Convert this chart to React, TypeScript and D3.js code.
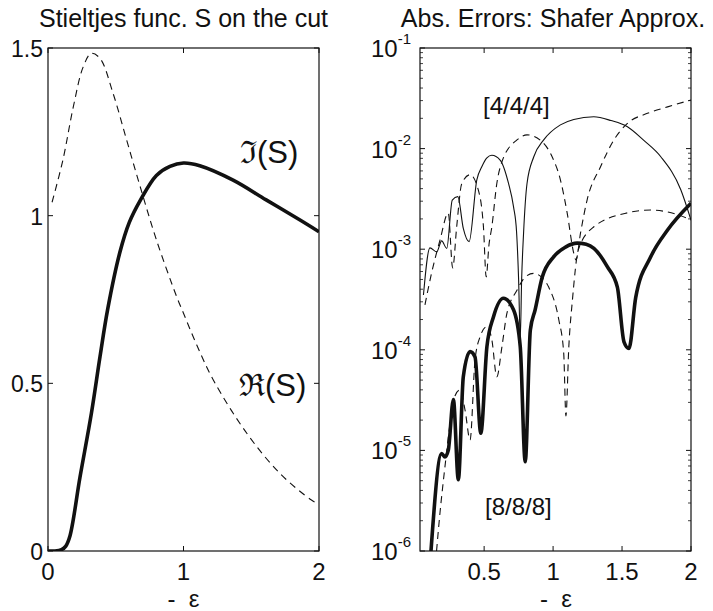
import React from 'react';
import * as d3 from 'd3';

// ---------- Left panel data: Stieltjes function on the cut ----------
const imX = [0, 0.05, 0.1, 0.13, 0.162, 0.236, 0.32, 0.384, 0.44, 0.53, 0.6, 0.68, 0.8, 0.9, 1.0, 1.12, 1.366, 1.61, 1.86, 2.0];
const imY = [0, 0, 0.004, 0.014, 0.045, 0.22, 0.41, 0.58, 0.72, 0.89, 0.98, 1.045, 1.12, 1.147, 1.157, 1.149, 1.106, 1.047, 0.987, 0.952];

const reX = [0.03, 0.11, 0.187, 0.26, 0.32, 0.384, 0.48, 0.58, 0.68, 0.8, 0.95, 1.0, 1.097, 1.22, 1.467, 1.71, 1.944, 2.0];
const reY = [1.04, 1.166, 1.325, 1.444, 1.484, 1.469, 1.365, 1.226, 1.087, 0.928, 0.758, 0.709, 0.615, 0.51, 0.351, 0.232, 0.152, 0.14];

const leftXTicks = [0, 1, 2];
const leftYTicks = [0, 0.5, 1, 1.5];
const leftYTickLabels = ['0', '0.5', '1', '1.5'];

// ---------- Right panel data: absolute errors (log scale) ----------
const thinX = [0.06, 0.107, 0.156, 0.192, 0.229, 0.269, 0.309, 0.349, 0.391, 0.447, 0.483, 0.52, 0.556, 0.616, 0.677, 0.713, 0.735, 0.75, 0.762, 0.772, 0.786, 0.811, 0.86, 0.932, 1.053, 1.15, 1.295, 1.42, 1.539, 1.66, 1.781, 1.926, 2.0];
const thinY = [3.5e-4, 1.03e-3, 9.4e-4, 1.21e-3, 1.02e-3, 3.08e-3, 3.33e-3, 1.61e-3, 1.19e-3, 4.9e-3, 6.6e-3, 8.1e-3, 8.6e-3, 7.7e-3, 4.5e-3, 2.65e-3, 1.5e-3, 5e-4, 1.3e-4, 5e-4, 1.45e-3, 4.5e-3, 8.3e-3, 1.22e-2, 1.72e-2, 1.95e-2, 2.07e-2, 1.9e-2, 1.65e-2, 1.2e-2, 8.3e-3, 3.9e-3, 1.95e-3];

const dashAX = [0.071, 0.119, 0.18, 0.24, 0.272, 0.301, 0.338, 0.398, 0.455, 0.495, 0.515, 0.535, 0.556, 0.592, 0.629, 0.738, 0.811, 0.92, 0.993, 1.053, 1.102, 1.15, 1.166, 1.199, 1.247, 1.344, 1.441, 1.539, 1.684, 1.83, 2.0];
const dashAY = [2.8e-4, 5.8e-4, 1.23e-3, 2.29e-3, 6.5e-4, 1.67e-3, 4.5e-3, 5.5e-3, 4.0e-3, 1.67e-3, 5.3e-4, 1.1e-3, 1.67e-3, 4.5e-3, 7.4e-3, 1.22e-2, 1.37e-2, 1.17e-2, 8.3e-3, 4.9e-3, 2.3e-3, 9.1e-4, 7.8e-4, 1.45e-3, 3.1e-3, 6.6e-3, 1.22e-2, 1.78e-2, 2.24e-2, 2.6e-2, 3.04e-2];

const dashBX = [0.155, 0.18, 0.216, 0.253, 0.289, 0.325, 0.362, 0.398, 0.434, 0.471, 0.52, 0.556, 0.592, 0.629, 0.665, 0.738, 0.798, 0.859, 0.908, 0.968, 1.041, 1.077, 1.093, 1.114, 1.14, 1.184, 1.296, 1.539, 1.708, 1.903, 2.0];
const dashBY = [1.0e-6, 2.4e-6, 6.9e-6, 1.86e-5, 3.5e-5, 4.0e-5, 2.5e-5, 1.27e-5, 7.9e-5, 1.35e-4, 1.7e-4, 1.26e-4, 5.4e-5, 1.07e-4, 2.3e-4, 3.9e-4, 5.3e-4, 5.75e-4, 5.4e-4, 4.2e-4, 2.0e-4, 9.3e-5, 2.2e-5, 1.07e-4, 3.1e-4, 1.0e-3, 1.67e-3, 2.3e-3, 2.45e-3, 2.2e-3, 1.95e-3];

const thickX = [0.112, 0.192, 0.216, 0.24, 0.277, 0.313, 0.349, 0.398, 0.434, 0.476, 0.52, 0.568, 0.64, 0.713, 0.762, 0.798, 0.835, 0.87, 0.92, 1.004, 1.09, 1.175, 1.24, 1.296, 1.393, 1.466, 1.514, 1.55, 1.599, 1.708, 1.83, 2.0];
const thickY = [8.9e-7, 9.3e-6, 8.6e-6, 1.0e-5, 3.2e-5, 5.1e-6, 5.4e-5, 9.6e-5, 8.5e-5, 1.48e-5, 1.07e-4, 2.13e-4, 3.25e-4, 2.5e-4, 1.07e-4, 7.7e-6, 1.57e-4, 2.5e-4, 5.2e-4, 8.4e-4, 1.05e-3, 1.15e-3, 1.12e-3, 1.02e-3, 6.7e-4, 4.2e-4, 1.2e-4, 1.03e-4, 3.3e-4, 8.4e-4, 1.55e-3, 2.86e-3];

const rightXTicks = [0.5, 1, 1.5, 2];
const rightXTickLabels = ['0.5', '1', '1.5', '2'];
const rightYExponents = [-6, -5, -4, -3, -2, -1];

const FONT = "'Liberation Sans', Arial, Helvetica, sans-serif";
const INK = '#111';

const zip = (xs: number[], ys: number[]) => xs.map((x, i) => [x, ys[i]] as [number, number]);

export default function App() {
  const W = 713, H = 611;
  const top = 48, bottom = 551;

  // Left panel scales
  const lx = d3.scaleLinear().domain([0, 2]).range([48, 319]);
  const ly = d3.scaleLinear().domain([0, 1.5]).range([bottom, top]);
  const lLine = d3.line<[number, number]>().x(d => lx(d[0])).y(d => ly(d[1])).curve(d3.curveCatmullRom.alpha(0.5));

  // Right panel scales
  const rx = d3.scaleLinear().domain([0.035, 2]).range([420, 691]);
  const ry = d3.scaleLog().domain([1e-6, 1e-1]).range([bottom, top]);
  const rLine = d3.line<[number, number]>().x(d => rx(d[0])).y(d => ry(d[1])).curve(d3.curveMonotoneX);

  const tick = 5, minor = 3;

  const minorTicks: number[] = [];
  for (let e = -6; e < -1; e++) for (let m = 2; m <= 9; m++) minorTicks.push(m * Math.pow(10, e));

  return (
    <svg width={W} height={H} style={{ display: 'block', position: 'absolute', left: 0, top: 0, background: '#fff' }} fontFamily={FONT}>
      <defs>
        <clipPath id="clipL"><rect x={48} y={top} width={271} height={bottom - top} /></clipPath>
        <clipPath id="clipR"><rect x={420} y={top} width={271} height={bottom - top} /></clipPath>
      </defs>
      <rect x={0} y={0} width={W} height={H} fill="#fff" />

      {/* ---------- Left panel ---------- */}
      <text x={(lx(0) + lx(2)) / 2} y={27} textAnchor="middle" fontSize={25} fill={INK}>Stieltjes func. S on the cut</text>
      <g clipPath="url(#clipL)">
        <path d={lLine(zip(reX, reY)) || ''} fill="none" stroke={INK} strokeWidth={1.1} strokeDasharray="7,5" />
        <path d={lLine(zip(imX, imY)) || ''} fill="none" stroke={INK} strokeWidth={3.6} strokeLinejoin="round" />
      </g>
      <rect x={48} y={top} width={271} height={bottom - top} fill="none" stroke={INK} strokeWidth={1.2} />
      {leftXTicks.map(t => (
        <g key={'lx' + t}>
          <line x1={lx(t)} x2={lx(t)} y1={bottom} y2={bottom - tick} stroke={INK} />
          <line x1={lx(t)} x2={lx(t)} y1={top} y2={top + tick} stroke={INK} />
          <text x={lx(t)} y={580} textAnchor="middle" fontSize={24} fill={INK}>{t}</text>
        </g>
      ))}
      {leftYTicks.map((t, i) => (
        <g key={'ly' + t}>
          <line x1={48} x2={48 + tick} y1={ly(t)} y2={ly(t)} stroke={INK} />
          <line x1={319} x2={319 - tick} y1={ly(t)} y2={ly(t)} stroke={INK} />
          <text x={43} y={ly(t) + 9} textAnchor="end" fontSize={23} fill={INK}>{leftYTickLabels[i]}</text>
        </g>
      ))}
      <text x={(lx(0) + lx(2)) / 2} y={607} textAnchor="middle" fontSize={24} fill={INK} style={{ whiteSpace: 'pre' }}>{'-  ε'}</text>
      <text x={240} y={163} fontSize={31} fill={INK}>ℑ(S)</text>
      <text x={239} y={396} fontSize={31} fill={INK}>ℜ(S)</text>

      {/* ---------- Right panel ---------- */}
      <text x={553} y={27} textAnchor="middle" fontSize={25} fill={INK}>Abs. Errors: Shafer Approx.</text>
      <g clipPath="url(#clipR)">
        <path d={rLine(zip(dashAX, dashAY)) || ''} fill="none" stroke={INK} strokeWidth={1.1} strokeDasharray="7,5" />
        <path d={rLine(zip(dashBX, dashBY)) || ''} fill="none" stroke={INK} strokeWidth={1.1} strokeDasharray="7,5" />
        <path d={rLine(zip(thinX, thinY)) || ''} fill="none" stroke={INK} strokeWidth={1.1} />
        <path d={rLine(zip(thickX, thickY)) || ''} fill="none" stroke={INK} strokeWidth={3.6} strokeLinejoin="round" />
      </g>
      <rect x={420} y={top} width={271} height={bottom - top} fill="none" stroke={INK} strokeWidth={1.2} />
      {rightXTicks.map((t, i) => (
        <g key={'rx' + t}>
          <line x1={rx(t)} x2={rx(t)} y1={bottom} y2={bottom - tick} stroke={INK} />
          <line x1={rx(t)} x2={rx(t)} y1={top} y2={top + tick} stroke={INK} />
          <text x={rx(t)} y={580} textAnchor="middle" fontSize={24} fill={INK}>{rightXTickLabels[i]}</text>
        </g>
      ))}
      {minorTicks.map((v, i) => (
        <g key={'rm' + i}>
          <line x1={420} x2={420 + minor} y1={ry(v)} y2={ry(v)} stroke={INK} strokeWidth={0.8} />
          <line x1={691} x2={691 - minor} y1={ry(v)} y2={ry(v)} stroke={INK} strokeWidth={0.8} />
        </g>
      ))}
      {rightYExponents.map(e => (
        <g key={'ry' + e}>
          <line x1={420} x2={420 + tick} y1={ry(Math.pow(10, e))} y2={ry(Math.pow(10, e))} stroke={INK} />
          <line x1={691} x2={691 - tick} y1={ry(Math.pow(10, e))} y2={ry(Math.pow(10, e))} stroke={INK} />
          <text x={411} y={ry(Math.pow(10, e)) + 9} textAnchor="end" fontSize={24} fill={INK}>
            <tspan>10</tspan>
            <tspan dy={-13} fontSize={15}>{String(e)}</tspan>
          </text>
        </g>
      ))}
      <text x={556} y={607} textAnchor="middle" fontSize={24} fill={INK} style={{ whiteSpace: 'pre' }}>{'-  ε'}</text>
      <text x={483} y={114} fontSize={24} fill={INK}>[4/4/4]</text>
      <text x={485} y={515} fontSize={24} fill={INK}>[8/8/8]</text>
    </svg>
  );
}
